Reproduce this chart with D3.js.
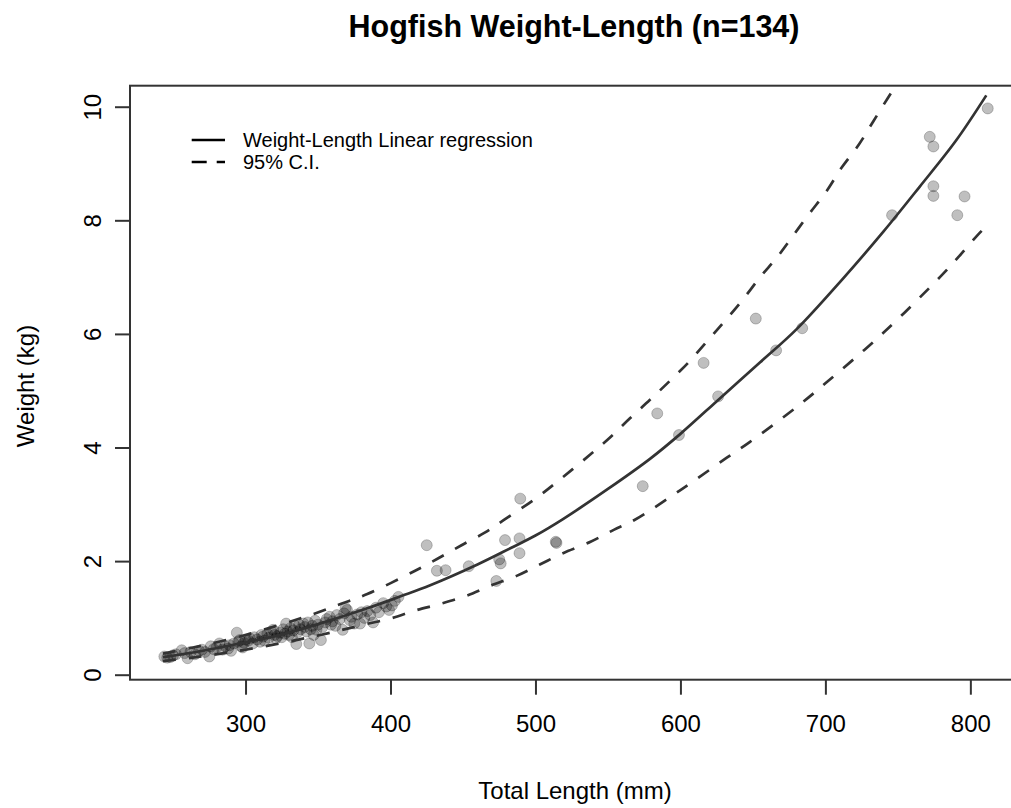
<!DOCTYPE html>
<html><head><meta charset="utf-8">
<script src="https://cdn.jsdelivr.net/npm/d3@7/dist/d3.min.js"></script>
<style>
html,body{margin:0;padding:0;background:#fff;}
svg text{font-family:"Liberation Sans",Arial,Helvetica,sans-serif;fill:#000;}
</style></head>
<body><svg id="chart" width="1011" height="808"></svg>
<script>
// ---- data ----
const chartTitle = "Hogfish Weight-Length (n=134)";
const xLabel = "Total Length (mm)";
const yLabel = "Weight (kg)";
const legendLabels = ["Weight-Length Linear regression", "95% C.I."];
const xTicks = [300, 400, 500, 600, 700, 800];
const yTicks = [0, 2, 4, 6, 8, 10];

// observed fish: total length (mm) and weight (kg)
const lengths = [
 244,246,248,250,252,256,258,260,262,265,268,270,272,275,276,278,280,282,284,286,
 288,289,290,292,294,295,296,297,298,299,300,302,303,305,306,308,310,311,312,313,
 315,316,318,319,320,321,322,324,325,326,327,328,329,330,331,332,333,334,335,336,
 337,338,340,341,342,343,344,345,346,347,348,349,350,352,353,355,356,358,359,360,
 362,363,365,367,368,369,370,372,373,375,377,379,380,382,384,386,388,390,392,395,
 397,399,401,403,
 405.5,425,432,438,454,473,475,476,479,489,489,489.5,514,514.5,574,584,599,616,626,652,
 666,684,746,772,774.5,774.5,774.5,791,796,812];
const weights = [
 0.32,0.30,0.31,0.34,0.36,0.43,0.38,0.29,0.40,0.36,0.42,0.44,0.40,0.32,0.50,0.45,0.48,0.55,0.44,0.50,
 0.46,0.52,0.42,0.55,0.74,0.58,0.61,0.50,0.48,0.56,0.62,0.60,0.64,0.55,0.66,0.62,0.58,0.70,0.67,0.60,
 0.72,0.65,0.75,0.79,0.70,0.64,0.68,0.74,0.66,0.80,0.72,0.90,0.76,0.70,0.82,0.66,0.78,0.86,0.54,0.75,
 0.88,0.80,0.90,0.84,0.76,0.92,0.55,0.80,0.86,0.70,0.95,0.79,0.88,0.61,0.84,0.92,0.98,1.02,0.88,0.94,
 0.86,1.05,0.98,0.79,1.08,1.17,1.14,0.96,1.02,0.90,1.06,0.90,1.10,1.00,1.12,1.05,0.92,1.18,1.10,1.26,
 1.20,1.14,1.22,1.30,
 1.37,2.28,1.83,1.84,1.91,1.65,2.03,1.96,2.37,2.40,2.14,3.10,2.34,2.32,3.32,4.60,4.22,5.49,4.90,6.27,
 5.71,6.10,8.09,9.47,9.30,8.60,8.43,8.09,8.42,9.97];

// fitted weight-length curve
const fitLength = [243,266,300,324,350,383,407,427,460,483,500,519,550,579,600,627,655,680,712,740,765,790,811];
const fitWeight = [0.31,0.40,0.57,0.70,0.89,1.16,1.38,1.57,1.94,2.23,2.45,2.74,3.27,3.80,4.24,4.86,5.50,6.08,6.97,7.80,8.59,9.40,10.20];
// 95% C.I. upper
const upperLength = [243,266,300,347,366,384,417,433,449,465,478,500,519,538,552,565,579,593,606,618,630,642,655,667,678,689,701,711,723,733,743,746];
const upperWeight = [0.37,0.49,0.70,1.07,1.25,1.42,1.83,2.05,2.28,2.50,2.72,3.10,3.48,3.88,4.19,4.51,4.84,5.18,5.51,5.86,6.21,6.57,7.00,7.36,7.74,8.12,8.52,8.92,9.33,9.74,10.15,10.27];
// 95% C.I. lower
const lowerLength = [243,266,300,350,383,400,417,434,452,469,487,503,519,538,554,568,600,632,648,680,700,740,779,792,805,810];
const lowerWeight = [0.24,0.31,0.44,0.69,0.89,0.99,1.13,1.245,1.386,1.567,1.74,1.94,2.14,2.34,2.55,2.72,3.25,3.82,4.10,4.71,5.13,6.02,7.00,7.36,7.74,7.87];

// ---- drawing ----
const svg = d3.select("#chart");
const plot = {left:130, right:1020.8, top:85.7, bottom:679.7};
const x = d3.scaleLinear().domain([220.3, 834.8]).range([plot.left, plot.right]);
const y = d3.scaleLinear().domain([-0.088, 10.37]).range([plot.bottom, plot.top]);
const ink = "#333333";

svg.append("defs").append("clipPath").attr("id","clip")
  .append("rect").attr("x",plot.left).attr("y",plot.top)
  .attr("width",plot.right-plot.left).attr("height",plot.bottom-plot.top);

// title
svg.append("text").attr("x",574).attr("y",37).attr("text-anchor","middle")
  .style("font-size","30.5px").style("font-weight","bold").text(chartTitle);

// points
const pts = lengths.map((L,i)=>({L, W:weights[i]}));
svg.append("g").attr("clip-path","url(#clip)").selectAll("circle").data(pts).join("circle")
  .attr("cx",d=>x(d.L)).attr("cy",d=>y(d.W)).attr("r",5.5)
  .attr("fill","rgba(0,0,0,0.25)").attr("stroke","rgba(0,0,0,0.22)").attr("stroke-width",1);

// curves
const line = d3.line().x(d=>x(d[0])).y(d=>y(d[1])).curve(d3.curveCatmullRom.alpha(0.5));
const g = svg.append("g").attr("clip-path","url(#clip)");
g.append("path").datum(fitLength.map((L,i)=>[L,fitWeight[i]]))
  .attr("d",line).attr("fill","none").attr("stroke",ink).attr("stroke-width",2.7);
g.append("path").datum(upperLength.map((L,i)=>[L,upperWeight[i]]))
  .attr("d",line).attr("fill","none").attr("stroke",ink).attr("stroke-width",2.7)
  .attr("stroke-dasharray","13,13");
g.append("path").datum(lowerLength.map((L,i)=>[L,lowerWeight[i]]))
  .attr("d",line).attr("fill","none").attr("stroke",ink).attr("stroke-width",2.7)
  .attr("stroke-dasharray","13,13");

// box (left, top, bottom visible; right edge beyond canvas)
svg.append("rect").attr("x",plot.left).attr("y",plot.top)
  .attr("width",plot.right-plot.left).attr("height",plot.bottom-plot.top)
  .attr("fill","none").attr("stroke",ink).attr("stroke-width",2);

// x axis
const xAxis = svg.append("g").attr("transform",`translate(0,${plot.bottom})`)
  .call(d3.axisBottom(x).tickValues(xTicks).tickSize(15).tickPadding(20).tickFormat(d3.format("d")));
xAxis.select(".domain").remove();
xAxis.selectAll("line").attr("stroke",ink).attr("stroke-width",2);
xAxis.selectAll("text").style("font-size","24px").attr("fill","#000");

// y axis
const yAxis = svg.append("g").attr("transform",`translate(${plot.left},0)`)
  .call(d3.axisLeft(y).tickValues(yTicks).tickSize(15).tickFormat(d3.format("d")));
yAxis.select(".domain").remove();
yAxis.selectAll("line").attr("stroke",ink).attr("stroke-width",2);
yAxis.selectAll("text").remove();
yAxis.selectAll(".tick").append("text")
  .attr("transform","translate(-29,0) rotate(-90)")
  .attr("text-anchor","middle").attr("x",0).attr("y",0)
  .style("font-size","24px").attr("fill","#000").text(d=>d);

// axis titles
svg.append("text").attr("x",575).attr("y",799).attr("text-anchor","middle")
  .style("font-size","24px").text(xLabel);
svg.append("text").attr("transform","translate(34,386) rotate(-90)").attr("text-anchor","middle")
  .style("font-size","24px").text(yLabel);

// legend
const leg = svg.append("g");
leg.append("line").attr("x1",191.7).attr("x2",225).attr("y1",140).attr("y2",140)
  .attr("stroke","#000").attr("stroke-width",2.7);
leg.append("line").attr("x1",191.7).attr("x2",225).attr("y1",162).attr("y2",162)
  .attr("stroke","#000").attr("stroke-width",2.7).attr("stroke-dasharray","15,10");
leg.append("text").attr("x",243).attr("y",147).style("font-size","20px").text(legendLabels[0]);
leg.append("text").attr("x",243).attr("y",169).style("font-size","20px").text(legendLabels[1]);
</script></body></html>
